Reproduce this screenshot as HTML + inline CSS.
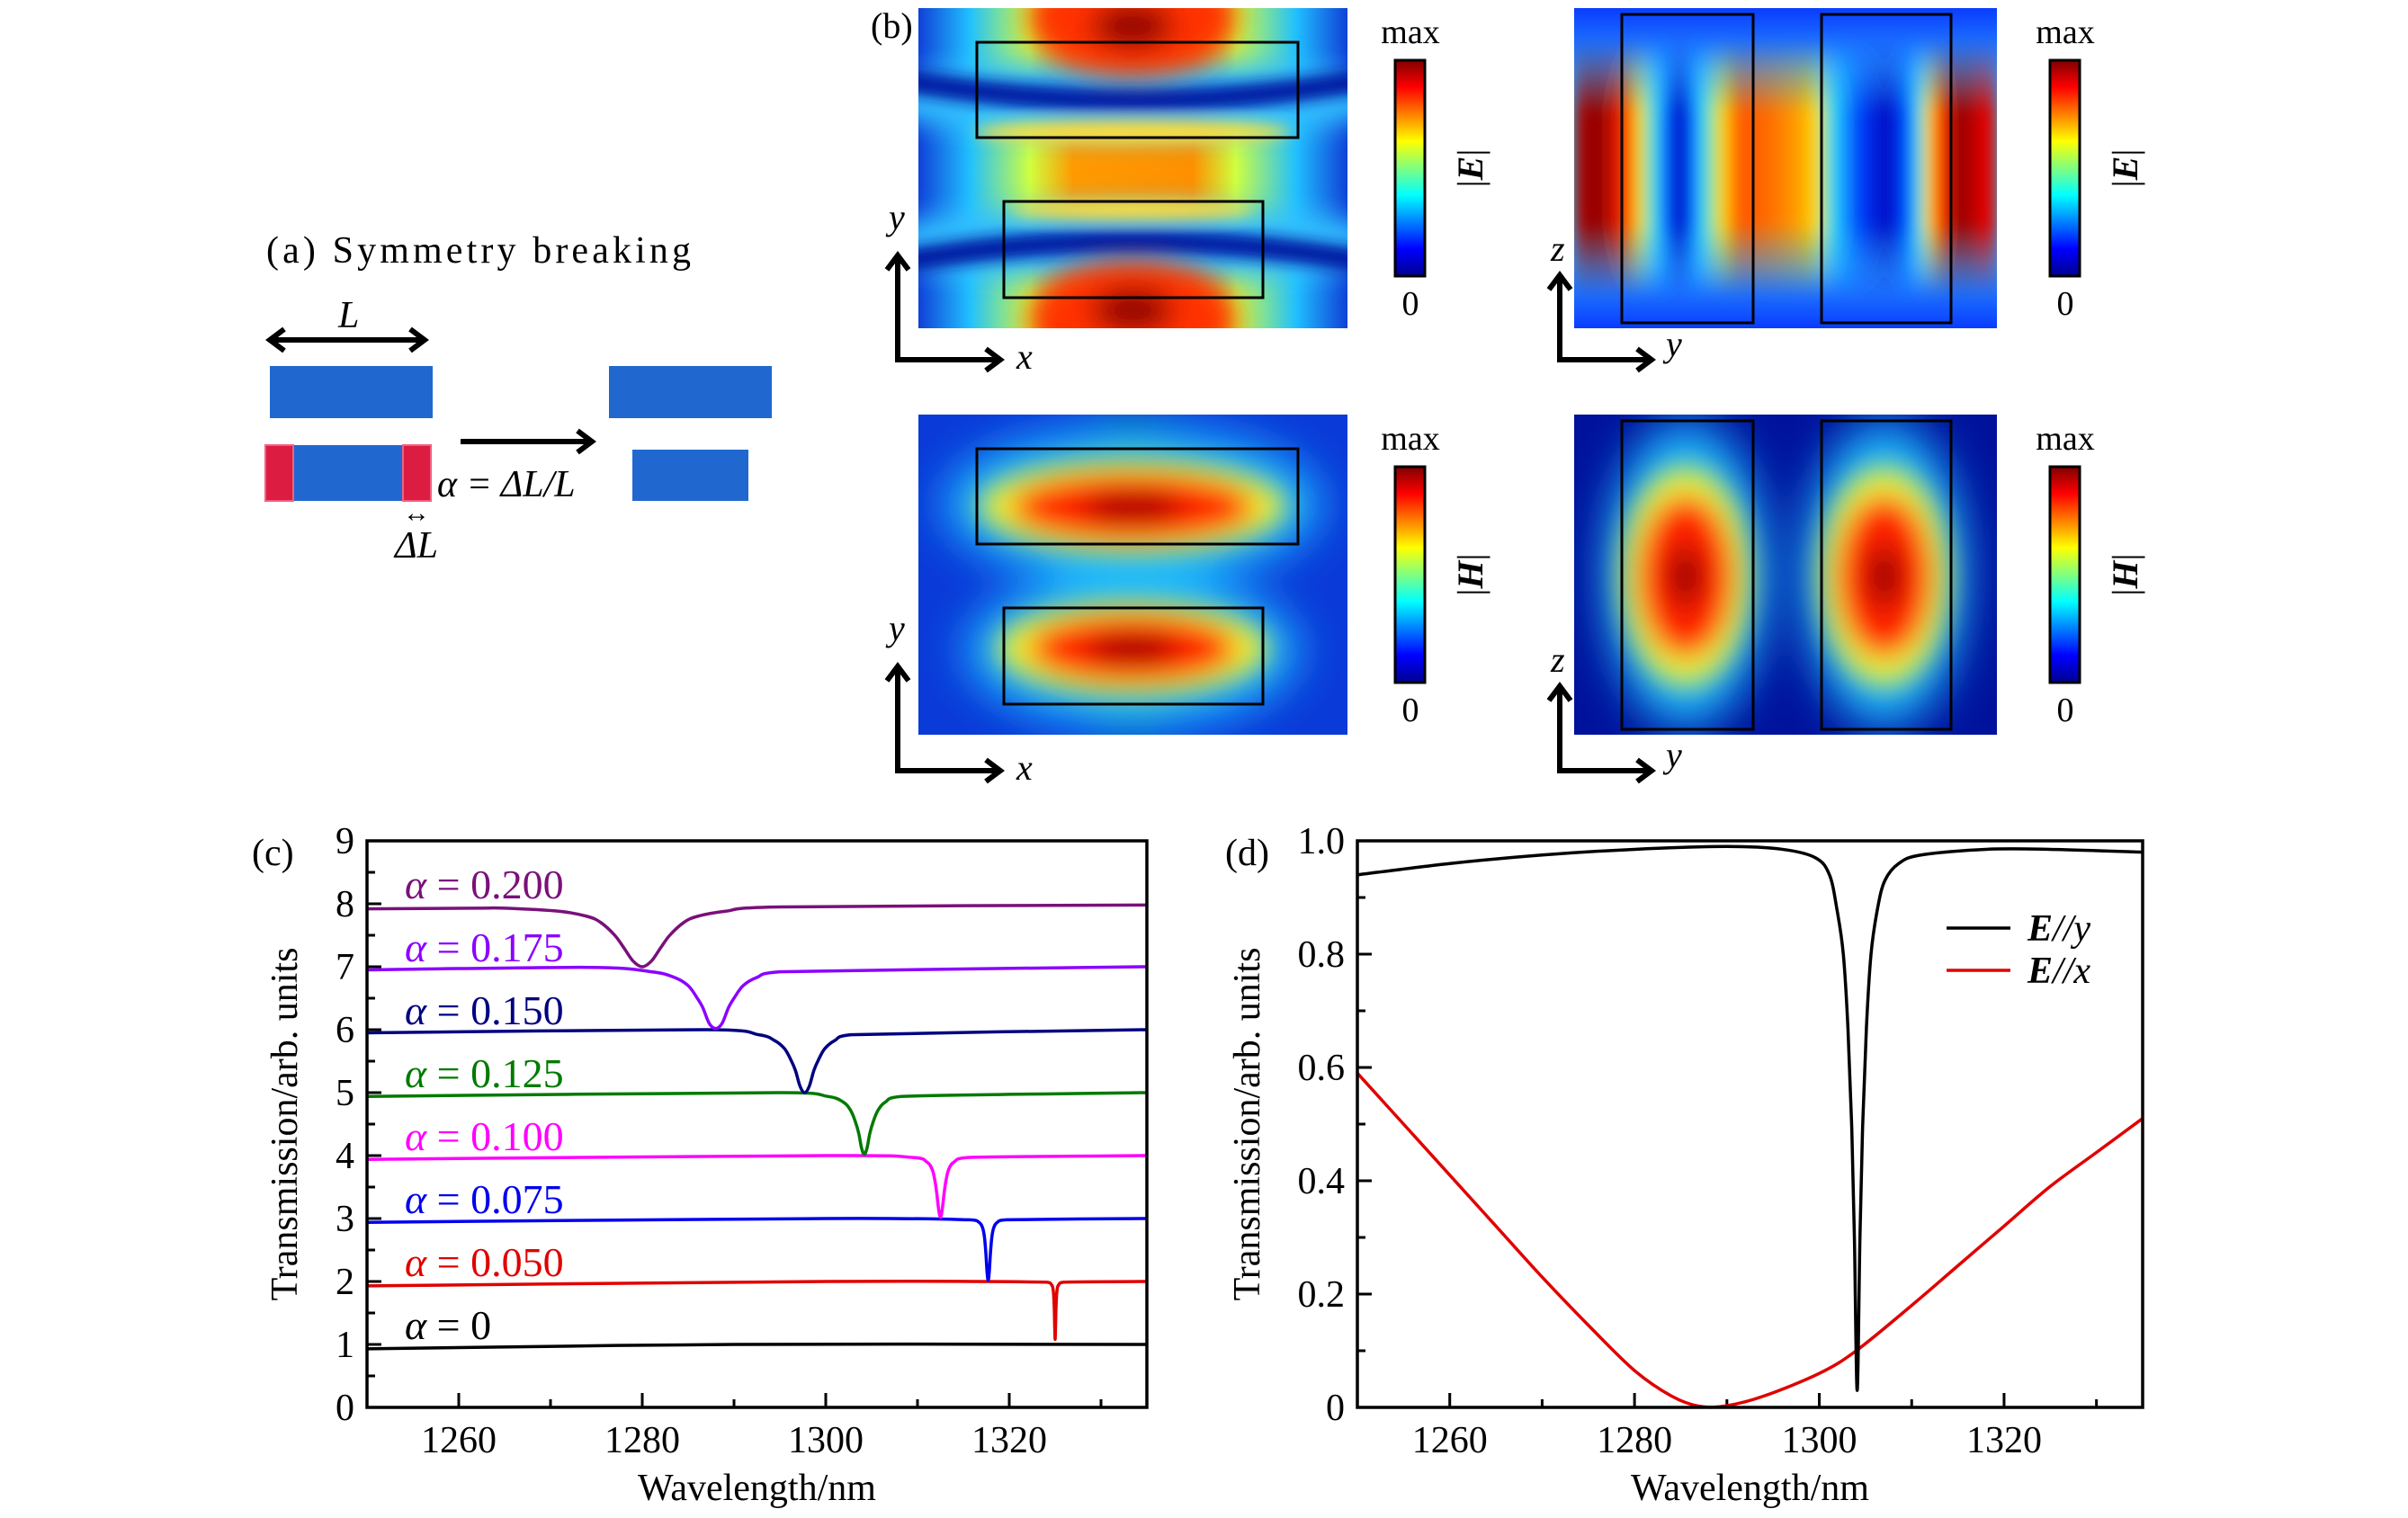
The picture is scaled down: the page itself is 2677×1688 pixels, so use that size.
<!DOCTYPE html>
<html><head><meta charset="utf-8"><style>
html,body{margin:0;padding:0;background:#fff;}
svg{display:block;font-family:"Liberation Serif",serif;}
</style></head><body>
<svg id="fig" width="2677" height="1688" viewBox="0 0 2677 1688" xmlns="http://www.w3.org/2000/svg">
<defs>
  <filter id="b8" x="-50%" y="-50%" width="200%" height="200%"><feGaussianBlur stdDeviation="8"/></filter>
  <filter id="b15" x="-50%" y="-50%" width="200%" height="200%"><feGaussianBlur stdDeviation="15"/></filter>
  <filter id="b25" x="-50%" y="-50%" width="200%" height="200%"><feGaussianBlur stdDeviation="25"/></filter>
  <linearGradient id="jet" x1="0" y1="1" x2="0" y2="0">
    <stop offset="0" stop-color="#00008f"/><stop offset="0.125" stop-color="#0000ff"/>
    <stop offset="0.375" stop-color="#00ffff"/><stop offset="0.625" stop-color="#ffff00"/>
    <stop offset="0.875" stop-color="#ff0000"/><stop offset="1" stop-color="#800000"/>
  </linearGradient>
  <linearGradient id="g1base" x1="0" y1="0" x2="1" y2="0">
    <stop offset="0" stop-color="#1040d8"/><stop offset="0.12" stop-color="#20c0ff"/>
    <stop offset="0.26" stop-color="#d0ff40"/><stop offset="0.36" stop-color="#ff9a00"/>
    <stop offset="0.64" stop-color="#ff9000"/><stop offset="0.74" stop-color="#d0ff40"/>
    <stop offset="0.88" stop-color="#20c0ff"/><stop offset="1" stop-color="#1040d8"/>
  </linearGradient>
  <linearGradient id="g2base" x1="0" y1="0" x2="0" y2="1">
    <stop offset="0" stop-color="#0a3cff"/><stop offset="0.2" stop-color="#2a9cff"/>
    <stop offset="0.35" stop-color="#30c8f0"/><stop offset="0.65" stop-color="#30c8f0"/>
    <stop offset="0.8" stop-color="#2a9cff"/><stop offset="1" stop-color="#0a3cff"/>
  </linearGradient>
  <linearGradient id="g2row" x1="0" y1="0" x2="1" y2="0">
    <stop offset="0" stop-color="#e00000"/><stop offset="0.09" stop-color="#8a0000"/>
    <stop offset="0.15" stop-color="#ff2000"/><stop offset="0.18" stop-color="#ffe000"/>
    <stop offset="0.215" stop-color="#20e0ff"/><stop offset="0.245" stop-color="#0040ff"/>
    <stop offset="0.27" stop-color="#0008b0"/><stop offset="0.29" stop-color="#0040ff"/>
    <stop offset="0.32" stop-color="#20e0ff"/><stop offset="0.36" stop-color="#ffe000"/>
    <stop offset="0.40" stop-color="#ff5000"/><stop offset="0.47" stop-color="#ff7000"/>
    <stop offset="0.53" stop-color="#ffa000"/><stop offset="0.57" stop-color="#ffe000"/>
    <stop offset="0.6" stop-color="#20e0ff"/><stop offset="0.66" stop-color="#0040ff"/>
    <stop offset="0.72" stop-color="#0008c0"/><stop offset="0.76" stop-color="#0040ff"/>
    <stop offset="0.79" stop-color="#20e0ff"/><stop offset="0.81" stop-color="#ffe000"/>
    <stop offset="0.84" stop-color="#ff2000"/><stop offset="0.88" stop-color="#8a0000"/>
    <stop offset="0.93" stop-color="#e00000"/><stop offset="1" stop-color="#ff2000"/>
  </linearGradient>
  <linearGradient id="g2mask" x1="0" y1="0" x2="0" y2="1">
    <stop offset="0.1" stop-color="#fff" stop-opacity="0"/><stop offset="0.33" stop-color="#fff" stop-opacity="1"/>
    <stop offset="0.67" stop-color="#fff" stop-opacity="1"/><stop offset="0.9" stop-color="#fff" stop-opacity="0"/>
  </linearGradient>
  <mask id="m2"><rect x="0" y="0" width="470" height="356" fill="url(#g2mask)"/></mask>
  <clipPath id="c1"><rect x="0" y="0" width="477" height="356"/></clipPath>
  <clipPath id="c2"><rect x="0" y="0" width="470" height="356"/></clipPath>
</defs>

<!-- Panel (a) -->
<g>
  <text x="296" y="292" font-size="42" textLength="472" lengthAdjust="spacing">(a)  Symmetry breaking</text>
  <text x="376" y="364" font-size="42" font-style="italic">L</text>
  <g stroke="#000" stroke-width="6" fill="none">
    <line x1="300" y1="378" x2="472" y2="378"/>
    <polyline points="316,366 300,378 316,390"/><polyline points="456,366 472,378 456,390"/>
  </g>
  <rect x="300" y="407" width="181" height="58" fill="#2068d0"/>
  <rect x="677" y="407" width="181" height="58" fill="#2068d0"/>
  <rect x="326" y="495" width="122" height="62" fill="#2068d0"/>
  <rect x="295" y="495" width="31" height="62" fill="#dc1c40" stroke="#f06080" stroke-width="2"/>
  <rect x="448" y="495" width="31" height="62" fill="#dc1c40" stroke="#f06080" stroke-width="2"/>
  <rect x="703" y="500" width="129" height="57" fill="#2068d0"/>
  <g stroke="#000" stroke-width="6" fill="none">
    <line x1="512" y1="491" x2="658" y2="491"/><polyline points="642,479 658,491 642,503"/>
  </g>
  <text x="486" y="552" font-size="42" font-style="italic">α = ΔL/L</text>
  <text x="463" y="580" font-size="30" text-anchor="middle">↔</text>
  <text x="463" y="620" font-size="42" text-anchor="middle" font-style="italic">ΔL</text>
</g>

<!-- Panel (b) -->
<g>
  <text x="968" y="42" font-size="40">(b)</text>

  <g transform="translate(1021,9)">
    <g clip-path="url(#c1)">
      <rect width="477" height="356" fill="url(#g1base)"/>
      <g filter="url(#b15)">
        <ellipse cx="238" cy="100" rx="300" ry="42" fill="#30c0ff"/>
        <ellipse cx="238" cy="262" rx="300" ry="42" fill="#30c0ff"/>
      </g>
      <g filter="url(#b8)">
        <path d="M-20,80 Q238,125 497,80" stroke="#0018a0" stroke-width="26" fill="none"/>
        <path d="M-20,282 Q238,237 497,282" stroke="#0018a0" stroke-width="26" fill="none"/>
        <ellipse cx="238" cy="138" rx="175" ry="12" fill="#ffe040"/>
        <ellipse cx="238" cy="224" rx="135" ry="10" fill="#ffe040"/>
      </g>
      <g filter="url(#b15)">
        <ellipse cx="238" cy="10" rx="115" ry="65" fill="#ff3000"/>
        <ellipse cx="238" cy="346" rx="115" ry="65" fill="#ff3000"/>
        <ellipse cx="238" cy="20" rx="45" ry="25" fill="#900000"/>
        <ellipse cx="238" cy="336" rx="45" ry="25" fill="#900000"/>
      </g>
    </g>
    <rect x="65" y="38" width="357" height="106" fill="none" stroke="#000" stroke-width="3"/>
    <rect x="95" y="215" width="288" height="107" fill="none" stroke="#000" stroke-width="3"/>
  </g>

  <g transform="translate(1750,9)">
    <g clip-path="url(#c2)">
      <rect width="470" height="356" fill="url(#g2base)"/>
      <g filter="url(#b8)"><rect x="-20" y="0" width="510" height="356" fill="url(#g2row)" mask="url(#m2)"/></g>
    </g>
    <rect x="53" y="7" width="146" height="343" fill="none" stroke="#000" stroke-width="3"/>
    <rect x="275" y="7" width="144" height="343" fill="none" stroke="#000" stroke-width="3"/>
  </g>

  <g transform="translate(1021,461)">
    <g clip-path="url(#c1)">
      <rect width="477" height="356" fill="#0a3ad8"/>
      <g filter="url(#b25)">
        <ellipse cx="238" cy="178" rx="80" ry="200" fill="#0010a0"/>
        <ellipse cx="238" cy="100" rx="210" ry="85" fill="#1fb8ff"/>
        <ellipse cx="238" cy="262" rx="185" ry="85" fill="#1fb8ff"/>
      </g>
      <g filter="url(#b15)">
        <ellipse cx="238" cy="102" rx="170" ry="52" fill="#f0f030"/>
        <ellipse cx="238" cy="260" rx="150" ry="52" fill="#f0f030"/>
        <ellipse cx="238" cy="103" rx="135" ry="38" fill="#ff2000"/>
        <ellipse cx="238" cy="260" rx="115" ry="38" fill="#ff2000"/>
        <ellipse cx="238" cy="103" rx="55" ry="14" fill="#900000"/>
        <ellipse cx="238" cy="260" rx="50" ry="14" fill="#900000"/>
      </g>
    </g>
    <rect x="65" y="38" width="357" height="106" fill="none" stroke="#000" stroke-width="3"/>
    <rect x="95" y="215" width="288" height="107" fill="none" stroke="#000" stroke-width="3"/>
  </g>

  <g transform="translate(1750,461)">
    <g clip-path="url(#c2)">
      <rect width="470" height="356" fill="#00129c"/>
      <g filter="url(#b25)">
        <ellipse cx="124" cy="178" rx="90" ry="170" fill="#1fb8ff"/>
        <ellipse cx="345" cy="178" rx="90" ry="170" fill="#1fb8ff"/>
      </g>
      <g filter="url(#b15)">
        <ellipse cx="124" cy="180" rx="72" ry="122" fill="#e8f040"/>
        <ellipse cx="345" cy="180" rx="72" ry="122" fill="#e8f040"/>
        <ellipse cx="124" cy="180" rx="53" ry="90" fill="#ff2000"/>
        <ellipse cx="345" cy="180" rx="53" ry="90" fill="#ff2000"/>
        <ellipse cx="124" cy="180" rx="18" ry="35" fill="#900000"/>
        <ellipse cx="345" cy="180" rx="18" ry="35" fill="#900000"/>
      </g>
    </g>
    <rect x="53" y="7" width="146" height="343" fill="none" stroke="#000" stroke-width="3"/>
    <rect x="275" y="7" width="144" height="343" fill="none" stroke="#000" stroke-width="3"/>
  </g>

  <g>
    <rect x="1551" y="67" width="33" height="240" fill="url(#jet)" stroke="#000" stroke-width="3"/>
    <text x="1568" y="48" font-size="38" text-anchor="middle">max</text>
    <text x="1568" y="350" font-size="38" text-anchor="middle">0</text>
    <text transform="translate(1648,187) rotate(-90)" font-size="40" text-anchor="middle">|<tspan font-weight="bold" font-style="italic">E</tspan>|</text>
  </g>
  <g>
    <rect x="2279" y="67" width="33" height="240" fill="url(#jet)" stroke="#000" stroke-width="3"/>
    <text x="2296" y="48" font-size="38" text-anchor="middle">max</text>
    <text x="2296" y="350" font-size="38" text-anchor="middle">0</text>
    <text transform="translate(2376,187) rotate(-90)" font-size="40" text-anchor="middle">|<tspan font-weight="bold" font-style="italic">E</tspan>|</text>
  </g>
  <g>
    <rect x="1551" y="519" width="33" height="240" fill="url(#jet)" stroke="#000" stroke-width="3"/>
    <text x="1568" y="500" font-size="38" text-anchor="middle">max</text>
    <text x="1568" y="802" font-size="38" text-anchor="middle">0</text>
    <text transform="translate(1648,639) rotate(-90)" font-size="40" text-anchor="middle">|<tspan font-weight="bold" font-style="italic">H</tspan>|</text>
  </g>
  <g>
    <rect x="2279" y="519" width="33" height="240" fill="url(#jet)" stroke="#000" stroke-width="3"/>
    <text x="2296" y="500" font-size="38" text-anchor="middle">max</text>
    <text x="2296" y="802" font-size="38" text-anchor="middle">0</text>
    <text transform="translate(2376,639) rotate(-90)" font-size="40" text-anchor="middle">|<tspan font-weight="bold" font-style="italic">H</tspan>|</text>
  </g>

  <g stroke="#000" stroke-width="6" fill="none">
    <path d="M998,284 V400 H1112"/><polyline points="986,300 998,284 1010,300"/><polyline points="1096,388 1112,400 1096,412"/>
    <path d="M1734,306 V400 H1836"/><polyline points="1722,322 1734,306 1746,322"/><polyline points="1820,388 1836,400 1820,412"/>
    <path d="M998,741 V857 H1112"/><polyline points="986,757 998,741 1010,757"/><polyline points="1096,845 1112,857 1096,869"/>
    <path d="M1734,763 V857 H1836"/><polyline points="1722,779 1734,763 1746,779"/><polyline points="1820,845 1836,857 1820,869"/>
  </g>
  <g font-size="40" font-style="italic">
    <text x="988" y="255">y</text><text x="1130" y="410">x</text>
    <text x="1724" y="290">z</text><text x="1852" y="396">y</text>
    <text x="988" y="712">y</text><text x="1130" y="867">x</text>
    <text x="1724" y="747">z</text><text x="1852" y="853">y</text>
  </g>
</g>

<g id="chartC"></g>
<g id="chartD"></g>
</svg>
<script>
// ---- Chart (c) data ----
const cLabelNums = ["0","0.050","0.075","0.100","0.125","0.150","0.175","0.200"];
const cColors = ["#000000","#e00000","#0000ee","#ff00ff","#007a00","#000080","#8b00ff","#7a107a"];
const cWl0 = [1250,1290,1335];
const cT0  = [0.93,1.0,1.0];
const cWl1 = [1250,1300,1324,1324.6,1324.8,1324.9,1324.95,1325,1325.05,1325.1,1325.2,1325.4,1326,1335];
const cT1  = [1.93,2.0,1.99,1.95,1.85,1.6,1.3,1.08,1.3,1.6,1.85,1.95,1.99,2.0];
const cWl2 = [1250,1300,1315.7,1316.7,1317.1,1317.3,1317.45,1317.58,1317.7,1317.82,1317.95,1318.1,1318.3,1318.7,1319.7,1335];
const cT2  = [2.94,3.0,2.98,2.94,2.85,2.7,2.45,2.15,2.02,2.15,2.45,2.7,2.85,2.94,2.98,3.0];
const cWl3 = [1250,1300,1309.5,1311,1311.6,1311.9,1312.1,1312.3,1312.5,1312.7,1312.9,1313.1,1313.4,1314,1315.5,1335];
const cT3  = [3.94,4.0,3.97,3.9,3.78,3.6,3.4,3.15,3.02,3.15,3.4,3.6,3.78,3.9,3.97,4.0];
const cWl4 = [1250,1295,1300.2,1301.9,1302.7,1303.2,1303.6,1303.9,1304.2,1304.5,1304.8,1305.2,1305.7,1306.5,1308.2,1335];
const cT4  = [4.94,5.0,4.94,4.85,4.72,4.55,4.35,4.12,4.02,4.12,4.35,4.55,4.72,4.85,4.94,5.0];
const cWl5 = [1250,1287,1292.7,1294.4,1295.5,1296.2,1296.7,1297.2,1297.7,1298.2,1298.7,1299.2,1299.9,1301,1302.7,1335];
const cT5  = [5.95,6.0,5.92,5.83,5.7,5.52,5.35,5.1,5.0,5.1,5.35,5.52,5.7,5.83,5.92,6.0];
const cWl6 = [1250,1274,1281,1283.5,1285,1286,1286.6,1287.3,1288,1288.7,1289.4,1290,1291,1292.5,1295,1335];
const cT6  = [6.95,6.99,6.92,6.83,6.7,6.5,6.35,6.1,6.02,6.1,6.35,6.5,6.7,6.83,6.92,7.0];
const cWl7 = [1250,1262,1265,1271,1274,1275.5,1277,1278,1279,1280,1281,1282,1283,1284.5,1286,1289,1295,1335];
const cT7  = [7.92,7.93,7.93,7.88,7.8,7.7,7.5,7.3,7.09,7.0,7.09,7.3,7.5,7.7,7.8,7.88,7.95,7.98];
const cLabelY = [1.3,2.3,3.3,4.3,5.3,6.3,7.3,8.3];
const cYTicks = [0,1,2,3,4,5,6,7,8,9];
const xTicks = [1260,1280,1300,1320];
const xMinor = [1270,1290,1310,1330];
// ---- Chart (d) data ----
const dWlY = [1250,1260,1270,1280,1290,1296,1299.6,1301.1,1301.9,1302.6,1303.1,1303.5,1303.8,1304.1,1304.4,1304.7,1305.1,1305.6,1306.3,1307.1,1308.6,1311,1318,1325,1335];
const dTY  = [0.94,0.96,0.975,0.985,0.99,0.985,0.97,0.94,0.88,0.8,0.67,0.5,0.3,0.03,0.3,0.5,0.67,0.8,0.88,0.93,0.96,0.975,0.985,0.985,0.98];
const dWlX = [1250,1255,1260,1265,1270,1275,1280,1284,1287,1290,1294,1300,1304,1310,1315,1320,1325,1330,1335];
const dTX  = [0.59,0.5,0.41,0.32,0.23,0.145,0.065,0.02,0.002,0.003,0.02,0.06,0.1,0.18,0.25,0.32,0.39,0.45,0.51];
const dYTicks = [0,0.2,0.4,0.6,0.8,1.0];
const dYTickLabels = ["0","0.2","0.4","0.6","0.8","1.0"];
const dLegend = ["E//y","E//x"];
const dColors = ["#000000","#e00000"];

const NS="http://www.w3.org/2000/svg";
function mk(parent,tag,attrs){const e=document.createElementNS(NS,tag);for(const k in attrs)e.setAttribute(k,attrs[k]);parent.appendChild(e);return e;}
function smooth(pts){
  let d="M"+pts[0][0].toFixed(2)+","+pts[0][1].toFixed(2);
  for(let i=0;i<pts.length-1;i++){
    const p0=pts[Math.max(0,i-1)],p1=pts[i],p2=pts[i+1],p3=pts[Math.min(pts.length-1,i+2)];
    const c1=[p1[0]+(p2[0]-p0[0])/6,p1[1]+(p2[1]-p0[1])/6];
    const c2=[p2[0]-(p3[0]-p1[0])/6,p2[1]-(p3[1]-p1[1])/6];
    c1[0]=Math.min(Math.max(c1[0],p1[0]),p2[0]);c2[0]=Math.min(Math.max(c2[0],p1[0]),p2[0]);
    d+=" C"+c1[0].toFixed(2)+","+c1[1].toFixed(2)+" "+c2[0].toFixed(2)+","+c2[1].toFixed(2)+" "+p2[0].toFixed(2)+","+p2[1].toFixed(2);
  }
  return d;
}
function axesFrame(g,L,R,T,B,xs,ys,yTicks,yLabels,yMinor){
  for(let i=0;i<xTicks.length;i++){
    const x=xs(xTicks[i]);
    const t=mk(g,"line",{x1:x,y1:B,x2:x,y2:B-16,stroke:"#000","stroke-width":3});
    
    
    const lb=mk(g,"text",{x:x,y:B+50,"font-size":42,"text-anchor":"middle"});lb.textContent=xTicks[i];
    
    
  }
  for(const v of xMinor){const x=xs(v);const t=mk(g,"line",{x1:x,y1:B,x2:x,y2:B-9,stroke:"#000","stroke-width":3});
    
    }
  for(let i=0;i<yTicks.length;i++){
    const y=ys(yTicks[i]);
    const t=mk(g,"line",{x1:L,y1:y,x2:L+16,y2:y,stroke:"#000","stroke-width":3});
    
    
    const lb=mk(g,"text",{x:L-14,y:y+14,"font-size":42,"text-anchor":"end"});lb.textContent=yLabels[i];
    
    
  }
  for(const v of yMinor){const y=ys(v);const t=mk(g,"line",{x1:L,y1:y,x2:L+9,y2:y,stroke:"#000","stroke-width":3});
    
    }
}
(function(){
  const g=document.getElementById("chartC");
  const L=408,R=1275,T=935,B=1565;
  const xs=v=>L+(v-1250)/(1335-1250)*(R-L);
  const ys=v=>B-v/9*(B-T);
  const minor=[];for(let i=0;i<9;i++)minor.push(i+0.5);
  axesFrame(g,L,R,T,B,xs,ys,cYTicks,cYTicks.map(String),minor);
  const wls=[cWl0,cWl1,cWl2,cWl3,cWl4,cWl5,cWl6,cWl7];
  const ts=[cT0,cT1,cT2,cT3,cT4,cT5,cT6,cT7];
  for(let s=0;s<wls.length;s++){
    const pts=wls[s].map((w,i)=>[xs(w),ys(ts[s][i])]);
    const p=mk(g,"path",{d:smooth(pts),fill:"none",stroke:cColors[s],"stroke-width":3.5});
    
    
    const lb=mk(g,"text",{x:450,y:ys(cLabelY[s])+15,"font-size":46,fill:cColors[s]});
    const a=mk(lb,"tspan",{"font-style":"italic"});a.textContent="α";
    const n=mk(lb,"tspan",{});n.textContent=" = "+cLabelNums[s];
    
    
  }
  const fr=mk(g,"rect",{x:L,y:T,width:R-L,height:B-T,fill:"none",stroke:"#000","stroke-width":3.5});
  
  
  const pl=mk(g,"text",{x:280,y:962,"font-size":42});pl.textContent="(c)";
  
  
  const xt=mk(g,"text",{x:(L+R)/2,y:1688-20,"font-size":42,"text-anchor":"middle"});xt.textContent="Wavelength/nm";
  
  
  const yt=mk(g,"text",{transform:"translate(330,1250) rotate(-90)","font-size":42,"text-anchor":"middle"});yt.textContent="Transmission/arb. units";
  
  
})();
(function(){
  const g=document.getElementById("chartD");
  const L=1509,R=2382,T=935,B=1565;
  const xs=v=>L+(v-1250)/(1335-1250)*(R-L);
  const ys=v=>B-v*(B-T);
  axesFrame(g,L,R,T,B,xs,ys,dYTicks,dYTickLabels,[0.1,0.3,0.5,0.7,0.9]);
  const ptsX=dWlX.map((w,i)=>[xs(w),ys(dTX[i])]);
  const px=mk(g,"path",{d:smooth(ptsX),fill:"none",stroke:dColors[1],"stroke-width":3.5});
  
  
  const ptsY=dWlY.map((w,i)=>[xs(w),ys(dTY[i])]);
  const py=mk(g,"path",{d:smooth(ptsY),fill:"none",stroke:dColors[0],"stroke-width":3.5});
  
  
  const fr=mk(g,"rect",{x:L,y:T,width:R-L,height:B-T,fill:"none",stroke:"#000","stroke-width":3.5});
  
  
  for(let i=0;i<dLegend.length;i++){
    const y=1032+i*47;
    const ln=mk(g,"line",{x1:2164,y1:y,x2:2235,y2:y,stroke:dColors[i],"stroke-width":3.5});
    
    
    const t=mk(g,"text",{x:2254,y:y+14,"font-size":42,"font-style":"italic"});
    const parts=dLegend[i].split("//");
    const b=mk(t,"tspan",{"font-weight":"bold"});b.textContent=parts[0];
    const r=mk(t,"tspan",{});r.textContent="//"+parts[1];
    
    
  }
  const pl=mk(g,"text",{x:1362,y:962,"font-size":42});pl.textContent="(d)";
  
  
  const xt=mk(g,"text",{x:(L+R)/2,y:1688-20,"font-size":42,"text-anchor":"middle"});xt.textContent="Wavelength/nm";
  
  
  const yt=mk(g,"text",{transform:"translate(1400,1250) rotate(-90)","font-size":42,"text-anchor":"middle"});yt.textContent="Transmission/arb. units";
  
  
})();
</script>
</body></html>
